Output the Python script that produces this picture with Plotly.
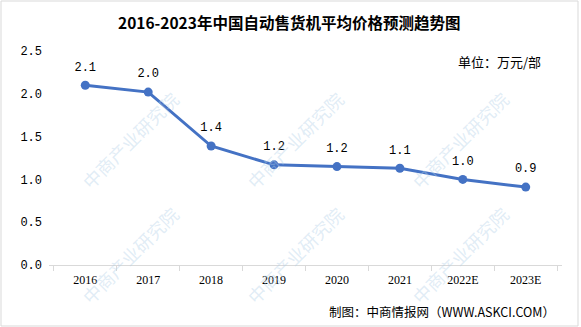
import plotly.graph_objects as go

years = ["2016", "2017", "2018", "2019", "2020", "2021", "2022E", "2023E"]
prices = [2.10, 2.02, 1.39, 1.17, 1.15, 1.13, 1.00, 0.91]
price_labels = ["2.1", "2.0", "1.4", "1.2", "1.2", "1.1", "1.0", "0.9"]
y_ticks = [0.0, 0.5, 1.0, 1.5, 2.0, 2.5]

W, H = 581, 327
L, R, T, B = 49, 19, 51, 62

def px(x):
    return (x - L) / (W - L - R)

def py(y):
    return (H - B - y) / (H - T - B)

fig = go.Figure()
fig.add_trace(go.Scatter(
    x=years, y=prices, mode="lines+markers",
    line=dict(color="#4472C4", width=3),
    marker=dict(color="#4472C4", size=9),
    cliponaxis=False, hoverinfo="skip",
))
# labels (invisible larger markers push the text a little higher)
fig.add_trace(go.Scatter(
    x=years, y=prices, mode="markers+text",
    marker=dict(color="rgba(0,0,0,0)", size=17),
    text=price_labels, textposition="top center",
    textfont=dict(family="Liberation Mono", size=12, color="#000000"),
    cliponaxis=False, hoverinfo="skip",
))

annotations = []
# light watermarks (only those fully inside the picture)
for cx, cy in [(130, 140), (295, 140), (460, 140), (130, 255), (295, 255), (460, 255)]:
    annotations.append(dict(
        x=px(cx), y=py(cy), xref="paper", yref="paper", xanchor="center", yanchor="middle",
        text="中商产业研究院", showarrow=False, textangle=-45,
        font=dict(family="Noto Sans CJK SC", size=18, color="rgba(180,208,232,0.40)"),
    ))

annotations += [
    dict(x=px(289), y=py(22), xref="paper", yref="paper", showarrow=False,
         xanchor="center", yanchor="middle",
         text="<b>2016-2023年中国自动售货机平均价格预测趋势图</b>",
         font=dict(family="Noto Sans CJK SC", size=15.5, color="#000000")),
    dict(x=px(543), y=py(62), xref="paper", yref="paper", showarrow=False,
         xanchor="right", yanchor="middle", text="单位：万元/部",
         font=dict(family="Noto Sans CJK SC", size=13, color="#000000")),
    dict(x=px(557), y=py(311), xref="paper", yref="paper", showarrow=False,
         xanchor="right", yanchor="middle", text="制图：中商情报网（WWW.ASKCI.COM）",
         font=dict(family="Noto Sans CJK SC", size=12.5, color="#000000")),
]

fig.update_layout(
    width=W, height=H,
    margin=dict(l=L, r=R, t=T, b=B, pad=0),
    paper_bgcolor="white", plot_bgcolor="white",
    showlegend=False,
    annotations=annotations,
    shapes=[dict(type="rect", xref="paper", yref="paper",
                 x0=px(1), x1=px(578), y0=py(326), y1=py(1),
                 line=dict(color="#d9d9d9", width=1))],
    xaxis=dict(
        type="category", showgrid=False, showline=True, linecolor="#d9d9d9", linewidth=1,
        ticks="outside", tickson="boundaries", ticklen=5, tickcolor="#d9d9d9",
        tickfont=dict(family="Liberation Serif", size=12, color="#000000"),
        ticklabelstandoff=4,
        fixedrange=True,
    ),
    yaxis=dict(
        range=[0, 2.5], tickvals=y_ticks, ticktext=[f"{v:.1f}" for v in y_ticks],
        showgrid=False, zeroline=False, showline=False, ticks="",
        tickfont=dict(family="Liberation Mono", size=12, color="#000000"),
        ticklabelstandoff=6,
        fixedrange=True,
    ),
)

fig.write_html("out.html")
